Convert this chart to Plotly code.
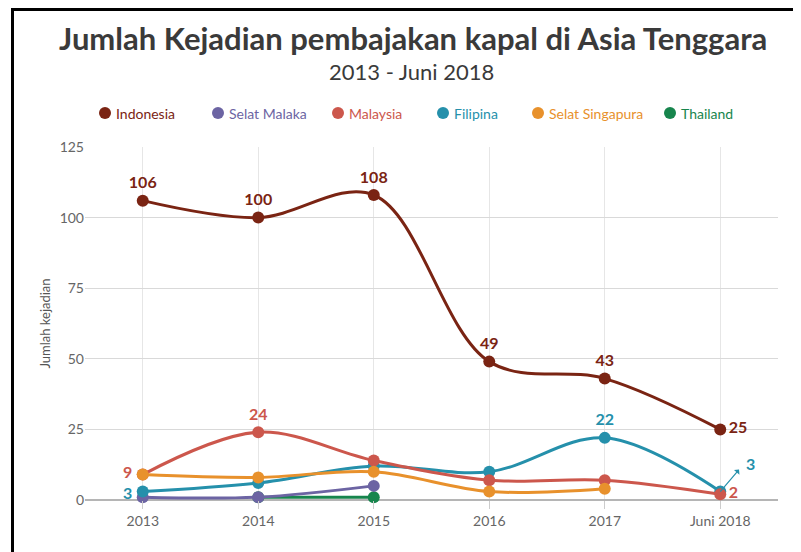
import plotly.graph_objects as go

categories = ["2013", "2014", "2015", "2016", "2017", "Juni 2018"]
indonesia = [106, 100, 108, 49, 43, 25]
selat_malaka = [1, 1, 5, None, None, None]
malaysia = [9, 24, 14, 7, 7, 2]
filipina = [3, 6, 12, 10, 22, 3]
selat_singapura = [9, 8, 10, 3, 4, None]
thailand = [None, 1, 1, None, None, None]
y_ticks = [0, 25, 50, 75, 100, 125]

series_names = ["Indonesia", "Selat Malaka", "Malaysia", "Filipina", "Selat Singapura", "Thailand"]
colors = {
    "Indonesia": "#7a2413",
    "Selat Malaka": "#6c64a3",
    "Malaysia": "#cc574c",
    "Filipina": "#2590ab",
    "Selat Singapura": "#e8912c",
    "Thailand": "#17854d",
}
values = {
    "Indonesia": indonesia,
    "Selat Malaka": selat_malaka,
    "Malaysia": malaysia,
    "Filipina": filipina,
    "Selat Singapura": selat_singapura,
    "Thailand": thailand,
}

FONT = "Lato"
# page body has an 8px margin: figure placed at (8, 8) on screen
OFF = 8
W, H = 801 - OFF, 552 - OFF
L, R, T, B = 85 - OFF, 23, 147 - OFF, 52
PW, PH = W - L - R, H - T - B


def px2x(px):
    return (px - OFF - L) / PW


def py2y(py):
    return (H - B - (py - OFF)) / PH


fig = go.Figure()


def labels_for(name):
    v = values[name]
    n = len(v)
    if name == "Indonesia":
        return [str(x) for x in v], ["top center"] * (n - 1) + ["middle right"]
    if name == "Malaysia":
        t = [""] * n
        p = ["top center"] * n
        t[1] = str(v[1]); p[1] = "top center"
        t[-1] = str(v[-1]); p[-1] = "middle right"
        return t, p
    if name == "Filipina":
        t = [""] * n
        p = ["top center"] * n
        t[4] = str(v[4]); p[4] = "top center"
        return t, p
    return None, None


draw_order = ["Indonesia", "Thailand", "Selat Malaka", "Filipina", "Malaysia", "Selat Singapura"]
for name in draw_order:
    t, p = labels_for(name)
    fig.add_trace(go.Scatter(
        x=categories, y=values[name],
        mode="lines+markers+text" if t else "lines+markers",
        text=t, textposition=p,
        textfont=dict(family=FONT, size=16, color=colors[name], weight="bold"),
        line=dict(color=colors[name], width=3, shape="spline", smoothing=1.0),
        marker=dict(color=colors[name], size=12),
        showlegend=False, cliponaxis=False, hoverinfo="skip",
    ))

# left-side labels for the first points of Malaysia and Filipina
for name, yshift in (("Malaysia", 3), ("Filipina", -1)):
    fig.add_annotation(
        x=0, y=values[name][0], text=str(values[name][0]),
        showarrow=False, xanchor="right", yanchor="middle", xshift=-9, yshift=yshift,
        font=dict(family=FONT, size=16, color=colors[name], weight="bold"),
    )

# Manual legend (circle + coloured text)
legend_marker_px = [105, 218, 338, 443, 538, 670]
legend_y = py2y(113)
for name, mx in zip(series_names, legend_marker_px):
    fig.add_shape(type="circle", xref="paper", yref="paper",
                  xsizemode="pixel", ysizemode="pixel",
                  xanchor=px2x(mx), yanchor=legend_y,
                  x0=-6, x1=6, y0=-6, y1=6,
                  fillcolor=colors[name], line=dict(width=0))
    fig.add_annotation(text=name, xref="paper", yref="paper",
                       x=px2x(mx + 9), y=legend_y, xanchor="left", yanchor="middle",
                       showarrow=False,
                       font=dict(family=FONT, size=14, color=colors[name]))

# Filipina last-point arrow label
fig.add_annotation(
    x=len(categories) - 1, y=filipina[-1], text=str(filipina[-1]),
    showarrow=True, arrowhead=2, arrowsize=0.8, arrowwidth=1.2, arrowside="start",
    arrowcolor=colors["Filipina"], ax=24, ay=-28, standoff=0, startstandoff=8,
    font=dict(family=FONT, size=16, color=colors["Filipina"], weight="bold"),
    xanchor="left",
)

# title & subtitle
fig.add_annotation(
    text="<b>Jumlah Kejadian pembajakan kapal di Asia Tenggara</b>",
    xref="paper", yref="paper", x=px2x(413), y=py2y(38), xanchor="center", yanchor="middle",
    showarrow=False, font=dict(family=FONT, size=31, color="#3a3a3a"),
)
fig.add_annotation(
    text="2013 - Juni 2018",
    xref="paper", yref="paper", x=px2x(411), y=py2y(72), xanchor="center", yanchor="middle",
    showarrow=False, font=dict(family=FONT, size=22, color="#3a3a3a"),
)

# frame lines (black border at top and left)
fig.add_shape(type="line", xref="paper", yref="paper", x0=px2x(11), x1=px2x(810),
              y0=py2y(9.5), y1=py2y(9.5), line=dict(color="black", width=3))
fig.add_shape(type="line", xref="paper", yref="paper", x0=px2x(12.5), x1=px2x(12.5),
              y0=py2y(8), y1=py2y(570), line=dict(color="black", width=3))

fig.update_layout(
    width=W, height=H,
    margin=dict(l=L, r=R, t=T, b=B),
    paper_bgcolor="white", plot_bgcolor="white",
    font=dict(family=FONT, color="#666666"),
    showlegend=False,
    xaxis=dict(
        type="category", range=[-0.5, 5.5],
        showgrid=True, gridcolor="#e6e6e6", gridwidth=1,
        showline=False, ticks="outside", ticklen=8, tickcolor="#ccc",
        tickfont=dict(family=FONT, size=14, color="#666666"), zeroline=False,
    ),
    yaxis=dict(
        range=[0, 125], tickvals=y_ticks, showgrid=True, gridcolor="#d9d9d9", gridwidth=1,
        zeroline=True, zerolinecolor="#b5b5b5", zerolinewidth=1.5,
        tickfont=dict(family=FONT, size=14, color="#666666"), ticks="",
        title=dict(text="Jumlah kejadian", font=dict(family=FONT, size=13, color="#555555"), standoff=6),
    ),
)

fig.write_html("out.html")
